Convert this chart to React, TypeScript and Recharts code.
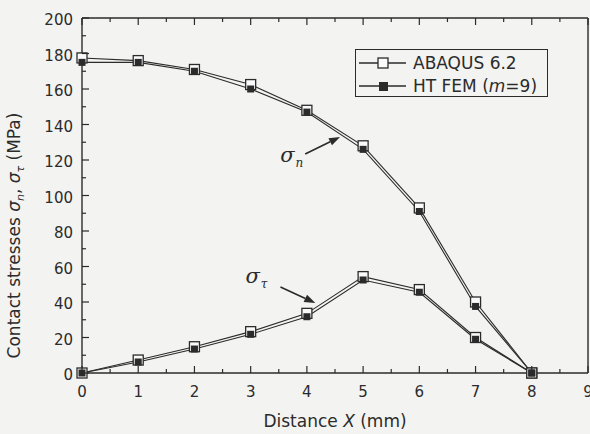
import { Legend, Line, LineChart, ReferenceLine, XAxis, YAxis } from 'recharts'

const distance = [0, 1, 2, 3, 4, 5, 6, 7, 8]
const abaqusNormal = [177.5, 176, 171, 162.5, 148, 128, 93, 40, 0]
const htNormal = [175, 175, 170, 160, 147, 126, 91, 37.5, 0]
const abaqusShear = [0, 7.3, 14.8, 23.3, 33.6, 54.3, 47, 20, 0]
const htShear = [0, 6.2, 13.5, 21.8, 31.7, 52.4, 45.5, 19, 0]

const xTicks = [0, 0.5, 1, 1.5, 2, 2.5, 3, 3.5, 4, 4.5, 5, 5.5, 6, 6.5, 7, 7.5, 8, 8.5, 9]
const yTicks = [0, 10, 20, 30, 40, 50, 60, 70, 80, 90, 100, 110, 120, 130, 140, 150, 160, 170, 180, 190, 200]

const data = distance.map((x, i) => ({
  x,
  abaqusN: abaqusNormal[i],
  htN: htNormal[i],
  abaqusT: abaqusShear[i],
  htT: htShear[i],
}))

const INK = '#2b2b2b'
const PAPER = '#f3f3f1'
const FONT = '"DejaVu Sans", sans-serif'
const MAJOR = 7
const MINOR = 4

const isMajorX = (v: number) => Number.isInteger(v)
const isMajorY = (v: number) => v % 20 === 0

const BottomTick = ({ x, y, payload }: any) => {
  const major = isMajorX(payload.value)
  return (
    <g>
      <line x1={x} y1={y} x2={x} y2={y - (major ? MAJOR : MINOR)} stroke={INK} strokeWidth={1.2} />
      {major && (
        <text x={x} y={y + 24} textAnchor="middle" fontSize={15} fontFamily={FONT} fill={INK}>
          {payload.value}
        </text>
      )}
    </g>
  )
}

const LeftTick = ({ x, y, payload }: any) => {
  const major = isMajorY(payload.value)
  return (
    <g>
      <line x1={x} y1={y} x2={x + (major ? MAJOR : MINOR)} y2={y} stroke={INK} strokeWidth={1.2} />
      {major && (
        <text x={x - 9} y={y + 7} textAnchor="end" fontSize={15} fontFamily={FONT} fill={INK}>
          {payload.value}
        </text>
      )}
    </g>
  )
}

const TopTick = ({ x, y, payload }: any) => (
  <line x1={x} y1={y} x2={x} y2={y + (isMajorX(payload.value) ? MAJOR : MINOR)} stroke={INK} strokeWidth={1.2} />
)

const RightTick = ({ x, y, payload }: any) => (
  <line x1={x} y1={y} x2={x - (isMajorY(payload.value) ? MAJOR : MINOR)} y2={y} stroke={INK} strokeWidth={1.2} />
)

const OpenSquare = (props: any) => {
  const { cx, cy, index } = props
  return (
    <rect key={`o${index}`} x={cx - 5} y={cy - 5} width={10} height={10} fill="#fafafa" stroke={INK} strokeWidth={1.3} />
  )
}

const FilledSquare = (props: any) => {
  const { cx, cy, index } = props
  return <rect key={`f${index}`} x={cx - 3.5} y={cy - 3.5} width={7} height={7} fill={INK} />
}

const arrow = (sub: string, dx: number, dy: number) => (props: any) => {
  const { x1, y1, x2, y2 } = props
  const a = Math.atan2(y2 - y1, x2 - x1)
  const len = 11
  const w = 4
  const bx = x2 - len * Math.cos(a)
  const by = y2 - len * Math.sin(a)
  const px = -Math.sin(a) * w
  const py = Math.cos(a) * w
  return (
    <g>
      <line x1={x1} y1={y1} x2={bx} y2={by} stroke={INK} strokeWidth={1.6} />
      <polygon points={`${x2},${y2} ${bx + px},${by + py} ${bx - px},${by - py}`} fill={INK} />
      <text x={x1 + dx} y={y1 + dy} fontFamily='"DejaVu Serif", serif' fontStyle="italic" fontSize={21} fill={INK}>
        σ
        <tspan dx={1} dy={5} fontSize={12}>
          {sub}
        </tspan>
      </text>
    </g>
  )
}

const LegendBox = () => (
  <div
    style={{
      border: `1.3px solid ${INK}`,
      background: PAPER,
      width: 191,
      height: 46,
      fontFamily: FONT,
      fontSize: 17,
      color: INK,
      boxSizing: 'content-box',
    }}
  >
    {[
      { label: <>ABAQUS 6.2</>, filled: false },
      { label: <>HT FEM (<i>m</i>=9)</>, filled: true },
    ].map((row, i) => (
      <div key={i} style={{ display: 'flex', alignItems: 'center', height: 23, marginTop: i === 0 ? 1 : 0 }}>
        <svg width={54} height={20} style={{ flex: 'none' }}>
          <line x1={3} y1={10} x2={50} y2={10} stroke={INK} strokeWidth={1.3} />
          {row.filled ? (
            <rect x={23} y={6} width={9} height={9} fill={INK} />
          ) : (
            <rect x={22} y={5} width={10} height={10} fill="#fafafa" stroke={INK} strokeWidth={1.3} />
          )}
        </svg>
        <span style={{ marginLeft: 3, whiteSpace: 'nowrap' }}>{row.label}</span>
      </div>
    ))}
  </div>
)

export default function App() {
  return (
    <div
      style={{
        position: 'absolute',
        left: 0,
        top: 0,
        width: 590,
        height: 434,
        overflow: 'hidden',
        background: PAPER,
      }}
    >
      <LineChart width={620} height={434} data={data} margin={{ top: 17, right: 31, bottom: 60, left: 81 }}>
        <XAxis
          dataKey="x"
          type="number"
          domain={[0, 9]}
          ticks={xTicks}
          interval={0}
          height={1}
          tickSize={0}
          tickMargin={0}
          tick={<BottomTick />}
          axisLine={{ stroke: INK, strokeWidth: 1.4 }}
          label={({ viewBox }: any) => (
            <text
              x={viewBox.x + viewBox.width / 2}
              y={viewBox.y + 54}
              textAnchor="middle"
              fontSize={17}
              fontFamily={FONT}
              fill={INK}
            >
              Distance <tspan fontStyle="italic">X</tspan> (mm)
            </text>
          )}
        />
        <XAxis
          xAxisId="top"
          orientation="top"
          dataKey="x"
          type="number"
          domain={[0, 9]}
          ticks={xTicks}
          interval={0}
          height={1}
          tickSize={0}
          tickMargin={0}
          tick={<TopTick />}
          axisLine={{ stroke: INK, strokeWidth: 1.4 }}
        />
        <YAxis
          type="number"
          domain={[0, 200]}
          ticks={yTicks}
          interval={0}
          width={1}
          tickSize={0}
          tickMargin={0}
          tick={<LeftTick />}
          axisLine={{ stroke: INK, strokeWidth: 1.4 }}
          label={({ viewBox }: any) => (
            <text
              transform={`translate(${viewBox.x - 61}, ${viewBox.y + viewBox.height / 2 + 40}) rotate(-90)`}
              textAnchor="middle"
              fontSize={17}
              fontFamily={FONT}
              fill={INK}
            >
              Contact stresses <tspan fontStyle="italic">σ</tspan>
              <tspan fontStyle="italic" fontSize={11} dy={4}>n</tspan>
              <tspan dy={-4}>, </tspan>
              <tspan fontStyle="italic">σ</tspan>
              <tspan fontStyle="italic" fontSize={11} dy={4}>τ</tspan>
              <tspan dy={-4}> (MPa)</tspan>
            </text>
          )}
        />
        <YAxis
          yAxisId="right"
          orientation="right"
          type="number"
          domain={[0, 200]}
          ticks={yTicks}
          interval={0}
          width={1}
          tickSize={0}
          tickMargin={0}
          tick={<RightTick />}
          axisLine={{ stroke: INK, strokeWidth: 1.4 }}
        />
        <ReferenceLine segment={[{ x: 3.97, y: 123.4 }, { x: 4.59, y: 133 }]} shape={arrow('n', -25, 8)} />
        <ReferenceLine segment={[{ x: 3.53, y: 48.5 }, { x: 4.15, y: 39.4 }]} shape={arrow('τ', -35, -4)} />
        <Line dataKey="abaqusN" stroke={INK} strokeWidth={1.1} dot={OpenSquare} isAnimationActive={false} />
        <Line dataKey="abaqusT" stroke={INK} strokeWidth={1.1} dot={OpenSquare} isAnimationActive={false} />
        <Line dataKey="htN" stroke={INK} strokeWidth={1.1} dot={FilledSquare} isAnimationActive={false} />
        <Line dataKey="htT" stroke={INK} strokeWidth={1.1} dot={FilledSquare} isAnimationActive={false} />
        <Legend
          layout="vertical"
          verticalAlign="middle"
          align="center"
          content={<LegendBox />}
          wrapperStyle={{ left: 355, top: 49, width: 194, height: 49 }}
        />
      </LineChart>
    </div>
  )
}
